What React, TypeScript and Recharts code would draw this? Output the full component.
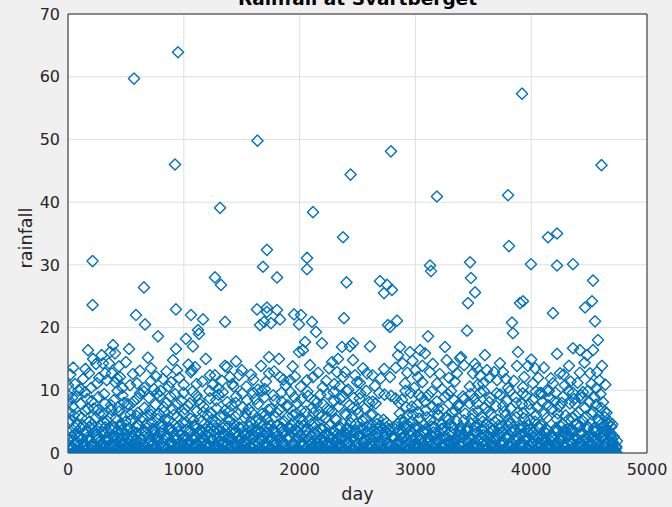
import React from 'react';
import { ScatterChart, Scatter, XAxis, YAxis, CartesianGrid } from 'recharts';

const dayTicks = [0, 1000, 2000, 3000, 4000, 5000];
const rainTicks = [0, 10, 20, 30, 40, 50, 60, 70];

// days with no rain (rainfall = 0)
const dryDays = [0, 41, 87, 126, 170, 213, 251, 296, 338, 379, 421, 465, 506, 548, 590, 633, 676, 718, 759, 801, 845, 886, 929, 970, 1012, 1055, 1097, 1139, 1180, 1224, 1265, 1307, 1350, 1392, 1433, 1476, 1518, 1560, 1603, 1644, 1686, 1729, 1771, 1813, 1855, 1897, 1939, 1981, 2024, 2066, 2108, 2150, 2192, 2234, 2277, 2319, 2361, 2403, 2445, 2487, 2530, 2572, 2614, 2656, 2698, 2740, 2783, 2825, 2867, 2909, 2951, 2993, 3036, 3078, 3120, 3162, 3204, 3246, 3289, 3331, 3373, 3415, 3457, 3499, 3542, 3584, 3626, 3668, 3710, 3752, 3795, 3837, 3879, 3921, 3963, 4005, 4048, 4090, 4132, 4174, 4216, 4258, 4301, 4343, 4385, 4427, 4469, 4511, 4554, 4596, 4638, 4680, 4722, 4738];

// light rain [day, mm]
const lightRain: [number, number][] = [[8,1.2],[30,2.6],[47,0.8],[66,3.1],[85,1.6],[104,0.6],[121,2.2],[142,1.1],[160,3.4],[178,0.9],[196,2.0],[219,1.4],[236,2.9],[255,0.7],[274,1.8],[292,3.3],[311,1.0],[333,2.4],[350,0.6],[369,1.5],[388,2.8],[406,1.2],[425,3.5],[444,0.8],[463,2.1],[482,1.3],[500,3.0],[521,0.7],[540,1.9],[558,2.7],[577,1.1],[596,3.2],[614,0.9],[633,2.3],[652,1.4],[671,3.4],[690,0.6],[708,2.0],[727,1.2],[746,2.9],[765,0.8],[784,1.7],[803,3.1],[822,1.0],[840,2.5],[859,0.7],[878,1.6],[897,3.3],[916,1.3],[934,2.2],[953,0.9],[972,3.0],[991,1.5],[1010,2.6],[1029,0.8],[1047,1.9],[1066,3.4],[1085,1.1],[1104,2.4],[1123,0.6],[1141,1.7],[1160,3.2],[1179,1.2],[1198,2.8],[1217,0.9],[1236,2.0],[1254,3.5],[1273,1.4],[1292,2.3],[1311,0.7],[1330,1.6],[1348,3.0],[1367,1.0],[1386,2.5],[1405,0.8],[1424,1.8],[1442,3.3],[1461,1.2],[1480,2.1],[1499,0.6],[1518,2.9],[1536,1.5],[1555,3.1],[1574,0.9],[1593,2.2],[1612,1.3],[1630,3.4],[1649,0.7],[1668,1.9],[1687,2.7],[1706,1.1],[1724,3.2],[1743,0.8],[1762,2.0],[1781,1.4],[1800,2.6],[1818,0.6],[1837,1.7],[1856,3.0],[1875,1.2],[1894,2.4],[1912,0.9],[1931,3.3],[1950,1.5],[1969,2.1],[1988,0.7],[2006,2.8],[2025,1.3],[2044,3.5],[2063,1.0],[2082,1.8],[2100,2.6],[2119,0.8],[2138,3.1],[2157,1.4],[2176,2.2],[2194,0.6],[2213,1.9],[2232,3.2],[2251,1.1],[2270,2.5],[2288,0.9],[2307,1.6],[2326,3.0],[2345,1.2],[2364,2.3],[2382,0.7],[2401,2.9],[2420,1.5],[2439,3.4],[2458,0.8],[2476,2.0],[2495,1.3],[2514,2.7],[2533,0.6],[2552,1.8],[2570,3.3],[2589,1.0],[2608,2.4],[2627,0.9],[2646,1.6],[2664,3.1],[2683,1.2],[2702,2.1],[2721,0.7],[2740,2.8],[2758,1.4],[2777,3.5],[2796,1.1],[2815,2.2],[2834,0.8],[2852,1.9],[2871,3.0],[2890,1.3],[2909,2.6],[2928,0.6],[2946,1.7],[2965,3.2],[2984,1.0],[3003,2.3],[3022,0.9],[3040,2.9],[3059,1.5],[3078,3.4],[3097,0.7],[3116,2.0],[3134,1.2],[3153,2.5],[3172,0.8],[3191,1.8],[3210,3.1],[3228,1.1],[3247,2.4],[3266,0.6],[3285,1.6],[3304,3.3],[3322,1.4],[3341,2.2],[3360,0.9],[3379,2.8],[3398,1.0],[3416,3.0],[3435,0.7],[3454,1.9],[3473,2.6],[3492,1.3],[3510,3.5],[3529,0.8],[3548,2.1],[3567,1.5],[3586,2.9],[3604,0.6],[3623,1.7],[3642,3.2],[3661,1.2],[3680,2.3],[3698,0.9],[3717,3.1],[3736,1.4],[3755,2.0],[3774,0.7],[3792,2.7],[3811,1.1],[3830,3.4],[3849,0.8],[3868,1.8],[3886,2.5],[3905,1.0],[3924,3.0],[3943,1.3],[3962,2.2],[3980,0.6],[3999,1.6],[4018,3.3],[4037,1.2],[4056,2.4],[4074,0.9],[4093,2.9],[4112,1.5],[4131,3.1],[4150,0.7],[4168,1.9],[4187,2.6],[4206,1.1],[4225,3.5],[4244,0.8],[4262,2.0],[4281,1.4],[4300,2.8],[4319,0.6],[4338,1.7],[4356,3.2],[4375,1.0],[4394,2.3],[4413,0.9],[4432,3.0],[4450,1.3],[4469,2.1],[4488,0.7],[4507,2.7],[4526,1.2],[4544,3.4],[4563,0.8],[4582,1.8],[4601,2.5],[4620,1.1],[4638,3.0],[4657,0.9],[4676,2.0],[4695,1.3],[4714,2.6],[4733,0.8]];

// more light rain days [day, mm]
const lightRainB: [number, number][] = [[18,0.5],[38,1.9],[57,2.9],[76,0.4],[94,2.4],[113,4.0],[132,1.7],[151,0.5],[169,2.5],[188,4.2],[207,1.1],[228,0.4],[245,3.6],[264,2.3],[283,0.5],[302,1.5],[321,4.1],[342,2.0],[360,0.4],[378,3.7],[397,1.9],[416,0.5],[434,2.4],[454,4.3],[472,1.6],[491,0.4],[511,2.3],[530,3.9],[549,1.3],[567,0.5],[587,2.0],[605,4.4],[624,1.6],[643,0.4],[662,2.6],[680,4.0],[699,1.5],[718,0.5],[737,3.6],[756,2.2],[774,0.4],[794,1.4],[812,4.2],[831,2.0],[850,0.5],[868,3.8],[888,1.9],[906,0.4],[925,2.7],[944,4.1],[963,1.6],[981,0.5],[1000,2.1],[1019,3.7],[1038,1.4],[1057,0.4],[1075,2.5],[1094,4.4],[1113,1.6],[1132,0.5],[1151,3.6],[1170,2.0],[1188,0.4],[1207,1.5],[1226,4.0],[1245,2.2],[1264,0.5],[1282,3.8],[1301,1.8],[1320,0.4],[1339,2.6],[1358,4.3],[1377,1.5],[1395,0.5],[1414,2.3],[1433,3.9],[1452,1.4],[1471,0.4],[1490,2.0],[1508,4.1],[1527,1.6],[1546,0.5],[1565,2.7],[1584,3.7],[1602,1.5],[1621,0.4],[1640,3.6],[1659,2.3],[1678,0.5],[1696,1.5],[1715,4.2],[1734,2.1],[1753,0.4],[1772,3.8],[1790,1.9],[1809,0.5],[1828,2.5],[1847,4.0],[1866,1.6],[1884,0.4],[1903,2.2],[1922,3.9],[1941,1.4],[1960,0.5],[1978,2.4],[1997,4.3],[2016,1.7],[2035,0.4],[2054,3.7],[2072,2.0],[2091,0.5],[2110,1.5],[2129,4.1],[2148,2.3],[2166,0.4],[2185,3.8],[2204,1.8],[2223,0.5],[2242,2.6],[2260,4.4],[2279,1.5],[2298,0.4],[2317,2.1],[2336,3.9],[2354,1.4],[2373,0.5],[2392,2.0],[2411,4.0],[2430,1.6],[2448,0.4],[2467,2.7],[2486,3.6],[2505,1.5],[2524,0.5],[2542,3.7],[2561,2.2],[2580,0.4],[2599,1.5],[2618,4.2],[2636,2.0],[2655,0.5],[2674,3.9],[2693,1.8],[2712,0.4],[2730,2.5],[2749,4.1],[2768,1.6],[2787,0.5],[2806,2.3],[2824,3.8],[2843,1.4],[2862,0.4],[2881,2.4],[2900,4.3],[2918,1.7],[2937,0.5],[2956,3.6],[2975,2.1],[2994,0.4],[3012,1.5],[3031,4.0],[3050,2.2],[3069,0.5],[3088,3.8],[3106,1.9],[3125,0.4],[3144,2.6],[3163,4.2],[3182,1.5],[3200,0.5],[3219,2.2],[3238,3.9],[3257,1.4],[3276,0.4],[3294,2.0],[3313,4.4],[3332,1.6],[3351,0.5],[3370,2.7],[3388,3.7],[3407,1.5],[3426,0.4],[3445,3.6],[3464,2.3],[3482,0.5],[3501,1.5],[3520,4.1],[3539,2.0],[3558,0.4],[3576,3.8],[3595,1.9],[3614,0.5],[3633,2.5],[3652,4.0],[3670,1.6],[3689,0.4],[3708,2.2],[3727,3.9],[3746,1.4],[3764,0.5],[3783,2.4],[3802,4.3],[3821,1.7],[3840,0.4],[3858,3.7],[3877,2.0],[3896,0.5],[3915,1.5],[3934,4.1],[3952,2.3],[3971,0.4],[3990,3.8],[4009,1.8],[4028,0.5],[4046,2.6],[4065,4.2],[4084,1.5],[4103,0.4],[4122,2.1],[4140,3.6],[4159,1.4],[4178,0.5],[4197,2.0],[4216,4.0],[4234,1.6],[4253,0.4],[4272,2.7],[4291,3.7],[4310,1.5],[4328,0.5],[4347,3.9],[4366,2.2],[4385,0.4],[4404,1.5],[4422,4.3],[4441,2.0],[4460,0.5],[4479,3.8],[4498,1.9],[4516,0.4],[4535,2.5],[4554,4.1],[4573,1.6],[4592,0.5],[4610,2.3],[4629,3.6],[4648,1.4],[4667,0.4],[4686,2.8],[4704,1.7],[4724,0.5],[4740,1.9]];

// still more light rain days [day, mm]
const lightRainC: [number, number][] = [[2,2.0],[26,1.0],[61,1.6],[99,2.7],[137,1.3],[174,2.1],[214,1.0],[250,2.6],[288,1.5],[326,2.0],[363,1.1],[401,2.5],[438,1.7],[476,2.3],[516,1.0],[552,2.5],[590,1.6],[629,2.1],[666,1.0],[703,2.7],[741,1.5],[779,2.2],[817,1.1],[855,2.8],[892,1.5],[930,2.0],[968,1.2],[1006,2.6],[1043,1.6],[1081,2.2],[1119,1.0],[1156,2.5],[1194,1.5],[1232,2.1],[1269,1.1],[1307,2.7],[1345,1.6],[1382,2.2],[1420,1.0],[1458,2.6],[1495,1.5],[1533,2.0],[1571,1.2],[1608,2.8],[1646,1.6],[1684,2.3],[1721,1.0],[1759,2.5],[1797,1.5],[1834,2.1],[1872,1.1],[1910,2.6],[1947,1.6],[1985,2.2],[2023,1.0],[2060,2.7],[2098,1.5],[2136,2.0],[2173,1.2],[2211,2.5],[2249,1.6],[2286,2.3],[2324,1.0],[2362,2.6],[2399,1.5],[2437,2.1],[2475,1.1],[2512,2.8],[2550,1.6],[2588,2.2],[2625,1.0],[2663,2.5],[2701,1.5],[2738,2.0],[2776,1.2],[2814,2.6],[2851,1.6],[2889,2.3],[2927,1.0],[2964,2.7],[3002,1.5],[3040,2.1],[3077,1.1],[3115,2.5],[3153,1.6],[3190,2.2],[3228,1.0],[3266,2.6],[3303,1.5],[3341,2.0],[3379,1.2],[3416,2.8],[3454,1.6],[3492,2.3],[3529,1.0],[3567,2.5],[3605,1.5],[3642,2.1],[3680,1.1],[3718,2.6],[3755,1.6],[3793,2.2],[3831,1.0],[3868,2.7],[3906,1.5],[3944,2.0],[3981,1.2],[4019,2.5],[4057,1.6],[4094,2.3],[4132,1.0],[4170,2.6],[4207,1.5],[4245,2.1],[4283,1.1],[4320,2.8],[4358,1.6],[4396,2.2],[4433,1.0],[4471,2.5],[4509,1.5],[4546,2.0],[4584,1.2],[4622,2.6],[4659,1.6],[4697,2.2],[4735,1.0]];

// moderate rain [day, mm]
const moderateRain: [number, number][] = [[5,4.8],[12,6.5],[3,8.1],[0,9.2],[25,5.2],[40,7.4],[58,4.1],[72,9.0],[95,5.9],[110,7.8],[128,4.4],[150,6.8],[166,8.6],[185,5.0],[200,3.9],[222,7.1],[240,5.6],[262,8.9],[280,4.3],[300,6.2],[318,7.9],[340,5.1],[357,4.0],[376,6.9],[395,8.4],[414,5.5],[432,7.3],[452,4.6],[470,9.2],[490,6.0],[505,3.8],[528,7.6],[547,5.3],[566,8.2],[585,4.2],[603,6.4],[622,9.5],[640,5.7],[660,7.2],[679,4.5],[698,8.8],[716,6.1],[735,3.9],[756,7.7],[773,5.4],[792,9.1],[811,4.7],[830,6.6],[850,8.0],[868,5.2],[888,3.7],[906,7.0],[925,9.4],[944,5.8],[962,4.3],[982,8.3],[1000,6.3],[1020,4.9],[1038,7.5],[1057,5.5],[1075,9.8],[1094,4.1],[1113,6.7],[1132,8.5],[1150,5.0],[1170,7.4],[1188,3.8],[1207,6.0],[1226,8.7],[1245,5.3],[1262,4.4],[1283,7.1],[1300,9.3],[1320,5.9],[1338,4.0],[1357,6.8],[1376,8.1],[1395,5.2],[1413,7.6],[1432,4.6],[1452,9.0],[1470,6.2],[1489,3.9],[1508,7.3],[1527,5.6],[1546,8.4],[1565,4.2],[1584,6.5],[1602,9.6],[1621,5.1],[1640,7.8],[1659,4.8],[1678,6.3],[1697,8.9],[1715,5.4],[1734,3.8],[1753,7.0],[1772,9.2],[1790,5.7],[1810,4.5],[1828,6.9],[1847,8.2],[1866,5.0],[1885,7.5],[1903,4.1],[1922,9.7],[1941,6.0],[1960,3.7],[1979,7.9],[1997,5.5],[2016,8.6],[2035,4.3],[2054,6.6],[2073,9.1],[2092,5.2],[2110,7.2],[2129,4.7],[2148,8.0],[2167,6.1],[2186,3.9],[2205,7.7],[2224,5.6],[2242,9.4],[2261,4.4],[2280,6.7],[2299,8.3],[2318,5.3],[2337,7.4],[2355,4.0],[2374,9.0],[2393,6.2],[2412,3.8],[2431,7.6],[2450,5.7],[2468,8.8],[2487,4.6],[2506,6.4],[2525,9.5],[2544,5.1],[2563,7.1],[2581,4.2],[2600,8.1],[2619,6.0],[2638,3.7],[2657,7.9],[2676,5.4],[2695,4.4],[2714,3.9],[2733,9.3],[2752,4.8],[2770,3.8],[2790,9.1],[2808,4.1],[2828,8.7],[2846,4.6],[2865,6.3],[2884,8.5],[2903,5.0],[2921,7.3],[2940,4.3],[2959,9.6],[2978,6.1],[2997,3.9],[3016,7.7],[3034,5.5],[3053,8.9],[3072,4.5],[3091,6.8],[3110,9.2],[3129,5.2],[3147,7.4],[3166,4.0],[3185,8.2],[3204,6.0],[3223,3.8],[3242,7.0],[3260,5.6],[3279,9.4],[3298,4.7],[3317,6.5],[3336,8.4],[3355,5.1],[3373,7.6],[3392,4.2],[3411,9.0],[3430,6.3],[3449,3.9],[3468,7.9],[3486,5.4],[3505,8.6],[3524,4.4],[3543,6.7],[3562,9.7],[3581,5.0],[3599,7.2],[3618,4.6],[3637,8.1],[3656,6.1],[3675,3.7],[3694,7.5],[3712,5.3],[3731,9.3],[3750,4.3],[3769,6.6],[3788,8.3],[3807,5.2],[3825,7.1],[3844,4.1],[3863,8.9],[3882,6.4],[3901,3.8],[3920,7.8],[3938,5.5],[3957,9.1],[3976,4.5],[3995,6.9],[4014,8.5],[4033,5.0],[4051,7.3],[4070,4.0],[4089,9.5],[4108,6.2],[4127,3.9],[4146,7.6],[4164,8.8],[4183,7.0],[4202,8.2],[4221,5.4],[4240,7.4],[4258,4.2],[4277,9.0],[4296,6.0],[4315,3.8],[4334,7.9],[4353,5.6],[4371,8.6],[4390,4.6],[4409,6.5],[4428,9.2],[4447,5.1],[4466,7.2],[4484,4.3],[4503,8.1],[4522,6.2],[4541,3.9],[4560,7.7],[4579,5.3],[4598,9.4],[4616,4.8],[4635,6.6],[4654,3.8],[4673,5.0],[4692,4.2]];

// more moderate rain days [day, mm]
const moderateRainB: [number, number][] = [[20,3.5],[50,6.0],[80,4.7],[118,5.6],[140,3.3],[175,7.0],[210,4.6],[230,3.4],[270,6.3],[310,4.9],[330,3.2],[365,5.8],[404,4.1],[440,6.6],[462,3.6],[498,5.0],[515,7.8],[556,3.4],[593,5.9],[612,4.4],[650,3.5],[688,6.0],[725,4.9],[745,3.3],[782,6.2],[820,3.6],[840,5.3],[877,4.0],[915,6.1],[952,3.4],[990,4.8],[1010,7.0],[1047,3.5],[1085,5.2],[1122,3.3],[1142,7.8],[1178,4.6],[1216,3.4],[1236,6.4],[1272,5.0],[1310,3.6],[1348,6.0],[1385,4.2],[1404,3.3],[1442,5.8],[1480,4.1],[1518,3.4],[1537,6.3],[1574,4.9],[1612,3.5],[1650,5.4],[1669,3.4],[1706,6.1],[1744,4.4],[1781,3.3],[1800,6.5],[1838,4.0],[1857,3.5],[1894,5.7],[1932,4.4],[1970,6.3],[1988,3.4],[2026,5.1],[2063,3.6],[2101,4.6],[2120,6.4],[2158,3.3],[2195,5.9],[2214,4.1],[2252,6.8],[2290,3.5],[2308,5.5],[2346,4.2],[2384,3.4],[2402,6.0],[2440,4.8],[2478,3.3],[2497,7.0],[2534,4.0],[2572,5.5],[2590,3.4],[2628,6.2],[2666,4.6],[2686,3.3],[2724,5.3],[2742,3.2],[2856,3.6],[2874,5.2],[2893,3.3],[2912,4.1],[2930,6.0],[2950,3.5],[2968,5.0],[3006,4.4],[3025,6.5],[3063,3.4],[3100,5.7],[3138,4.2],[3156,3.3],[3194,6.1],[3232,4.6],[3251,3.5],[3289,5.4],[3326,4.0],[3345,6.7],[3383,3.4],[3420,5.2],[3440,3.6],[3477,4.7],[3496,6.2],[3534,3.3],[3571,5.8],[3590,4.1],[3628,6.6],[3665,3.5],[3684,5.0],[3722,4.4],[3740,3.3],[3778,6.0],[3816,4.6],[3835,3.4],[3872,5.7],[3910,4.2],[3929,6.4],[3966,3.5],[3986,5.2],[4024,3.3],[4042,6.1],[4080,4.5],[4117,3.4],[4136,5.6],[4212,3.6],[4230,6.3],[4268,4.7],[4287,3.3],[4324,5.4],[4343,3.5],[4381,6.0],[4418,4.2],[4437,3.3],[4474,5.8],[4494,4.0],[4531,6.6],[4550,3.5],[4588,5.1],[4606,3.3],[4625,4.3],[4645,3.5],[4664,4.6],[4682,3.2]];

// upper moderate rain days [day, mm]
const moderateRainC: [number, number][] = [[35,8.8],[90,10.0],[148,9.7],[205,8.3],[258,6.9],[312,9.4],[372,7.6],[428,9.9],[484,8.0],[540,6.2],[598,8.7],[655,9.8],[710,6.8],[768,9.5],[826,7.3],[884,9.0],[940,7.8],[998,9.6],[1052,7.9],[1110,9.2],[1166,6.5],[1222,9.9],[1280,8.4],[1336,9.7],[1392,6.6],[1448,8.0],[1505,9.5],[1560,7.0],[1618,8.6],[1674,9.9],[1730,6.9],[1786,8.4],[1843,9.6],[1899,7.6],[1955,8.9],[2012,6.8],[2068,9.8],[2124,8.3],[2180,9.3],[2237,7.1],[2293,9.7],[2350,8.6],[2406,9.9],[2462,7.2],[2518,8.7],[2575,9.9],[2631,8.2],[2688,9.6],[2860,8.0],[2915,9.9],[2970,7.4],[3027,9.3],[3083,8.2],[3140,9.8],[3196,7.0],[3252,8.9],[3308,9.9],[3365,7.6],[3421,8.6],[3477,9.4],[3533,7.9],[3590,9.9],[3646,8.8],[3702,9.5],[3758,7.5],[3815,9.9],[3871,8.0],[3927,9.5],[3984,7.8],[4040,9.8],[4096,8.1],[4152,9.9],[4210,9.6],[4265,8.0],[4321,9.9],[4378,7.8],[4434,8.8],[4490,9.9],[4546,8.9],[4603,7.2],[4650,6.4],[4700,4.6]];

// heavy rain [day, mm]
const heavyRain: [number, number][] = [[0,10.8],[60,11.0],[173,16.4],[216,15.0],[242,14.2],[302,14.3],[354,14.3],[320,12.7],[181,12.7],[130,11.8],[250,11.1],[389,17.2],[406,15.9],[380,12.7],[423,11.9],[449,12.1],[406,11.3],[527,16.6],[535,10.8],[596,11.1],[660,10.4],[717,13.5],[717,11.5],[743,10.2],[777,18.6],[820,11.8],[870,10.6],[907,14.8],[933,16.6],[941,13.2],[1000,10.9],[1019,18.2],[1062,12.9],[1071,13.2],[1079,17.0],[1097,13.7],[1123,19.6],[1131,19.0],[1160,11.4],[1226,12.4],[1269,12.4],[1300,10.3],[1356,13.9],[1373,13.7],[1399,12.1],[1420,11.0],[1451,14.6],[1477,12.4],[1540,10.6],[1600,11.7],[1667,13.9],[1700,10.2],[1736,15.3],[1736,12.7],[1822,15.0],[1831,12.1],[1880,10.8],[1917,11.6],[1960,12.2],[1995,16.1],[2029,16.4],[2047,17.7],[2064,11.6],[2116,12.1],[2142,19.3],[2193,17.5],[2200,10.5],[2254,13.5],[2300,11.0],[2323,12.9],[2332,15.0],[2366,16.9],[2375,12.1],[2392,12.9],[2420,10.1],[2435,17.0],[2461,17.5],[2461,14.8],[2478,12.4],[2496,11.3],[2548,13.5],[2582,12.7],[2608,17.0],[2650,10.7],[2700,11.9],[2781,12.1],[2850,15.6],[2867,16.9],[2910,11.1],[2953,16.1],[2990,10.4],[3022,12.1],[3040,16.4],[3060,11.3],[3083,15.9],[3109,18.6],[3126,12.9],[3187,11.1],[3230,10.2],[3256,16.9],[3290,12.0],[3325,13.7],[3359,12.7],[3385,15.1],[3394,15.3],[3446,19.5],[3470,10.6],[3497,12.7],[3515,14.2],[3532,13.5],[3540,10.9],[3584,11.1],[3618,13.2],[3644,12.1],[3705,11.6],[3756,12.9],[3800,10.4],[3843,19.1],[3850,11.5],[3877,13.9],[3886,16.1],[3929,10.5],[3972,13.9],[4016,11.1],[4033,13.5],[4076,9.6],[4136,10.0],[4188,11.1],[4223,15.8],[4249,12.7],[4290,10.8],[4326,13.9],[4361,16.7],[4361,9.6],[4400,11.2],[4421,16.4],[4447,9.7],[4482,15.6],[4508,12.7],[4534,16.4],[4560,10.3],[4568,12.9],[4577,18.0],[4611,13.9],[4620,8.1],[4637,5.7]];

// more heavy rain days [day, mm]
const heavyRainB: [number, number][] = [[20,12.5],[45,13.6],[110,10.2],[150,13.4],[200,10.4],[270,12.0],[290,15.6],[335,11.6],[365,16.1],[440,13.8],[470,10.4],[500,14.5],[560,12.6],[620,13.1],[690,15.2],[760,12.2],[800,9.9],[850,13.0],[890,11.3],[960,12.0],[1040,14.1],[1110,11.0],[1190,15.0],[1250,10.9],[1330,11.5],[1430,10.6],[1500,13.2],[1580,12.5],[1640,10.1],[1710,11.4],[1780,13.0],[1860,11.7],[1940,13.8],[2010,10.6],[2090,14.0],[2160,12.8],[2230,11.5],[2280,14.5],[2350,10.7],[2520,11.2],[2630,12.4],[2730,13.4],[2830,13.6],[2890,14.3],[2930,12.8],[2975,14.7],[3000,13.2],[3060,13.9],[3150,14.2],[3210,12.6],[3270,14.8],[3340,11.4],[3420,14.0],[3560,12.3],[3600,15.6],[3680,12.9],[3730,14.3],[3780,11.8],[3940,12.1],[4000,14.9],[4060,12.0],[4110,13.6],[4170,11.9],[4280,12.5],[4340,11.4],[4420,12.8],[4460,14.4],[4520,11.0],[4590,11.6],[4640,10.9]];

// very heavy rain [day, mm]
const extremeRain: [number, number][] = [[570,59.7],[950,63.9],[924,46.0],[1636,49.8],[1313,39.1],[2789,48.1],[2440,44.4],[3186,40.9],[3921,57.3],[3800,41.1],[4607,45.9],[2116,38.4],[1718,32.4],[2375,34.4],[212,30.6],[2064,31.1],[2064,29.3],[1684,29.7],[1269,28.0],[1321,26.8],[1805,28.0],[656,26.4],[2405,27.2],[2694,27.4],[2755,26.8],[2798,26.0],[2729,25.5],[2763,20.4],[2841,21.1],[3126,29.9],[3135,29.0],[3472,30.4],[3480,27.9],[3515,25.6],[3454,23.9],[3808,33.0],[3998,30.1],[4145,34.4],[4223,35.0],[4223,29.9],[4361,30.1],[4534,27.5],[4525,24.2],[4465,23.2],[4551,21.0],[4188,22.3],[3903,23.9],[3929,24.2],[3834,20.8],[212,23.6],[932,22.9],[587,22.0],[665,20.5],[1062,22.0],[1166,21.3],[1356,20.9],[1632,22.9],[1718,23.2],[1718,22.5],[1805,22.8],[1831,21.3],[1693,20.9],[1753,20.7],[1658,20.4],[1952,22.1],[2012,22.0],[1995,20.5],[2107,20.9],[2383,21.5],[2781,20.1]];

const toPoints = (pairs: [number, number][]) => pairs.map(([day, rainfall]) => ({ day, rainfall }));
const dryPoints = dryDays.map((day) => ({ day, rainfall: 0 }));

const BLUE = '#0072BD';
const AXIS = '#262626';
const FONT = 'DejaVu Sans';

const HollowDiamond = (props: any) => {
  const { cx, cy } = props;
  if (cx == null || cy == null) return <g />;
  const h = 5.6;
  return (
    <path
      d={`M${cx},${cy - h}L${cx + h},${cy}L${cx},${cy + h}L${cx - h},${cy}Z`}
      fill="none"
      stroke={BLUE}
      strokeWidth={1.4}
      strokeLinejoin="round"
    />
  );
};

const FilledDiamond = (props: any) => {
  const { cx, cy } = props;
  if (cx == null || cy == null) return <g />;
  const h = 6.8;
  return <path d={`M${cx},${cy - h}L${cx + h},${cy}L${cx},${cy + h}L${cx - h},${cy}Z`} fill={BLUE} />;
};

const hollowSeries = [lightRain, lightRainB, lightRainC, moderateRain, moderateRainB, moderateRainC, heavyRain, heavyRainB, extremeRain];

export default function App() {
  return (
    <div style={{ position: 'absolute', left: 0, top: 0, width: 672, height: 507, background: '#f0f0f0', overflow: 'hidden' }}>
      <ScatterChart width={672} height={507} margin={{ top: 14, right: 25, bottom: 0, left: 0 }}>
        <CartesianGrid stroke="#dfdfdf" fill="#ffffff" />
        <XAxis
          dataKey="day"
          type="number"
          domain={[0, 5000]}
          ticks={dayTicks}
          allowDataOverflow
          interval={0}
          height={54}
          tickSize={0}
          tickMargin={11}
          tickLine={false}
          axisLine={{ stroke: AXIS }}
          tick={{ fill: AXIS, fontSize: 16, fontFamily: FONT }}
        />
        <YAxis
          dataKey="rainfall"
          type="number"
          domain={[0, 70]}
          ticks={rainTicks}
          allowDataOverflow
          interval={0}
          width={68}
          tickSize={0}
          tickMargin={8}
          tickLine={false}
          axisLine={{ stroke: AXIS }}
          tick={{ fill: AXIS, fontSize: 16, fontFamily: FONT }}
        />
        <XAxis
          xAxisId="top"
          orientation="top"
          mirror
          type="number"
          domain={[0, 5000]}
          ticks={dayTicks}
          allowDataOverflow
          interval={0}
          tick={false}
          tickSize={5}
          tickLine={{ stroke: AXIS }}
          axisLine={{ stroke: AXIS }}
        />
        <YAxis
          yAxisId="right"
          orientation="right"
          mirror
          type="number"
          domain={[0, 70]}
          ticks={rainTicks}
          allowDataOverflow
          interval={0}
          tick={false}
          tickSize={5}
          tickLine={{ stroke: AXIS }}
          axisLine={{ stroke: AXIS }}
        />
        <Scatter data={dryPoints} shape={FilledDiamond} isAnimationActive={false} />
        {hollowSeries.map((s, i) => (
          <Scatter key={i} data={toPoints(s)} shape={HollowDiamond} isAnimationActive={false} />
        ))}
      </ScatterChart>
      <svg width={672} height={507} style={{ position: 'absolute', left: 0, top: 0, pointerEvents: 'none' }}>
        <text x={357.5} y={5} textAnchor="middle" fontWeight="bold" fontSize={18.5} fontFamily={FONT} fill="#000">
          Rainfall at Svartberget
        </text>
        <text x={357.5} y={500} textAnchor="middle" fontSize={17.6} fontFamily={FONT} fill={AXIS}>
          day
        </text>
        <text transform="translate(32,238) rotate(-90)" textAnchor="middle" fontSize={17.6} fontFamily={FONT} fill={AXIS}>
          rainfall
        </text>
      </svg>
    </div>
  );
}
